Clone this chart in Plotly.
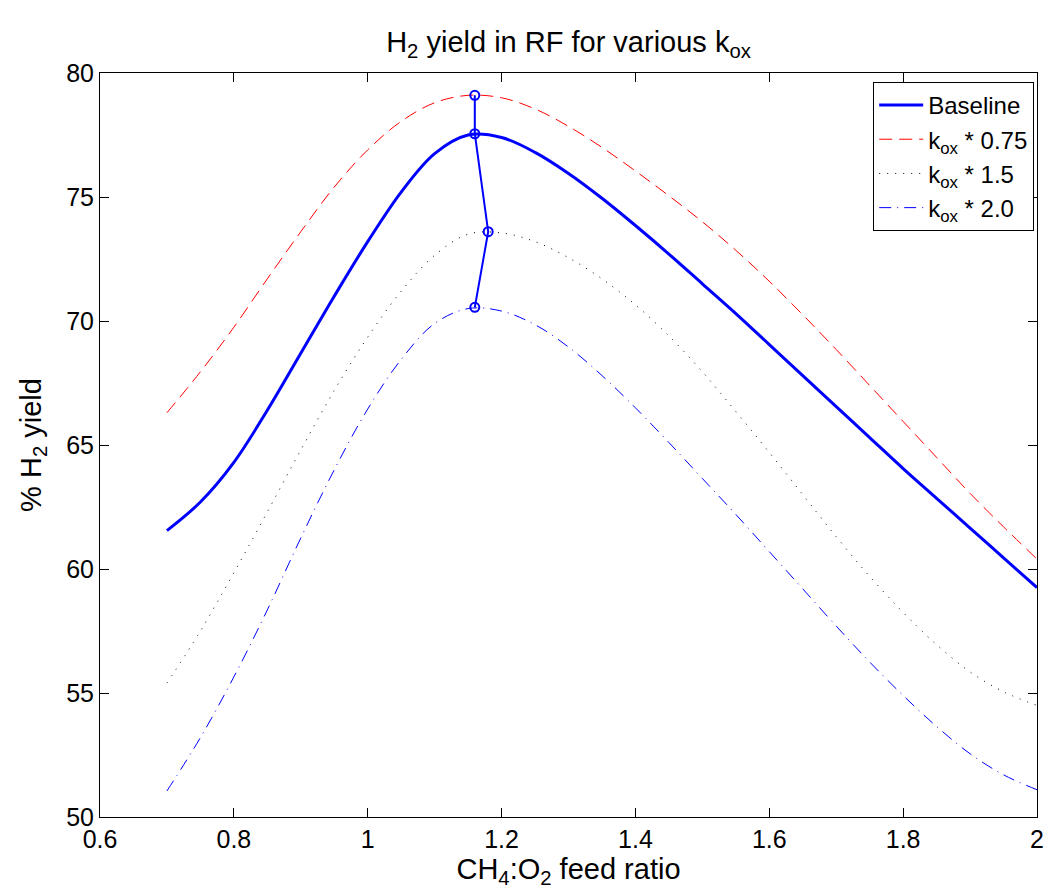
import plotly.graph_objects as go

x_ratio = [0.70, 0.75, 0.80, 0.85, 0.90, 0.95, 1.00, 1.05, 1.10, 1.15, 1.20, 1.25, 1.30, 1.35,
           1.40, 1.45, 1.50, 1.55, 1.60, 1.65, 1.70, 1.75, 1.80, 1.85, 1.90, 1.95, 2.00]

baseline = [61.55, 62.7, 64.3, 66.4, 68.7, 71.0, 73.2, 75.2, 76.75, 77.5, 77.4, 76.8, 75.95, 74.95,
            73.85, 72.7, 71.5, 70.3, 69.05, 67.8, 66.55, 65.3, 64.05, 62.85, 61.65, 60.45, 59.25]

kox_075 = [66.3, 67.95, 69.75, 71.7, 73.6, 75.4, 76.9, 78.05, 78.8, 79.1, 79.0, 78.55, 77.85, 77.0,
           76.05, 75.05, 74.0, 72.85, 71.6, 70.25, 68.85, 67.4, 65.95, 64.5, 63.05, 61.7, 60.4]

kox_15 = [55.4, 57.5, 59.85, 62.3, 64.8, 67.2, 69.35, 71.2, 72.65, 73.5, 73.55, 73.2, 72.55, 71.7,
          70.65, 69.4, 67.95, 66.35, 64.7, 63.0, 61.3, 59.7, 58.25, 56.95, 55.85, 55.05, 54.5]

kox_20 = [51.05, 53.2, 55.65, 58.35, 61.25, 64.0, 66.45, 68.45, 69.9, 70.5, 70.4, 69.85, 68.95, 67.8,
          66.5, 65.1, 63.65, 62.2, 60.7, 59.2, 57.7, 56.25, 54.9, 53.65, 52.55, 51.7, 51.1]

peak_x = [1.16, 1.16, 1.18, 1.16]
peak_y = [79.1, 77.55, 73.6, 70.55]

font = "Liberation Sans, Arial, Helvetica, sans-serif"

fig = go.Figure()
fig.add_trace(go.Scatter(x=x_ratio, y=baseline, mode="lines", name="Baseline",
                         line=dict(color="#0000ff", width=3, shape="spline", smoothing=1)))
fig.add_trace(go.Scatter(x=x_ratio, y=kox_075, mode="lines", name="k<sub>ox</sub> * 0.75",
                         line=dict(color="#ff0000", width=1, dash="13px,7px", shape="spline", smoothing=1)))
fig.add_trace(go.Scatter(x=x_ratio, y=kox_15, mode="lines", name="k<sub>ox</sub> * 1.5",
                         line=dict(color="#000000", width=1, dash="1px,7px", shape="spline", smoothing=1)))
fig.add_trace(go.Scatter(x=x_ratio, y=kox_20, mode="lines", name="k<sub>ox</sub> * 2.0",
                         line=dict(color="#0000ff", width=1, dash="12px,6px,1px,6px", shape="spline", smoothing=1)))
fig.add_trace(go.Scatter(x=peak_x, y=peak_y, mode="lines+markers", showlegend=False,
                         line=dict(color="#0000ff", width=2),
                         marker=dict(symbol="circle-open", size=9, color="#0000ff",
                                     line=dict(width=2, color="#0000ff"))))

axis_common = dict(showline=True, linecolor="black", linewidth=1, mirror="ticks",
                   ticks="inside", ticklen=9, tickcolor="black", tickwidth=1,
                   showgrid=False, zeroline=False,
                   tickfont=dict(family=font, size=25, color="black"))

fig.update_layout(
    width=1056, height=896,
    margin=dict(l=100, r=12, t=73, b=79),
    paper_bgcolor="white", plot_bgcolor="white",
    font=dict(family=font, size=25, color="black"),
    title=dict(text="H<sub>2</sub> yield in RF for various k<sub>ox</sub>",
               x=0.5, xref="paper", xanchor="center", y=0.953, yanchor="middle",
               font=dict(family=font, size=29, color="black")),
    xaxis=dict(range=[0.6, 2.0], tick0=0.6, dtick=0.2,
               title=dict(text="CH<sub>4</sub>:O<sub>2</sub> feed ratio", standoff=2,
                          font=dict(family=font, size=29)),
               **axis_common),
    yaxis=dict(range=[50, 80], tick0=50, dtick=5,
               title=dict(text="% H<sub>2</sub> yield", standoff=16,
                          font=dict(family=font, size=29)),
               **axis_common),
    legend=dict(x=0.997, y=0.988, xanchor="right", yanchor="top",
                bgcolor="white", bordercolor="black", borderwidth=1,
                font=dict(family=font, size=24, color="black"),
                tracegroupgap=0, itemwidth=44),
    showlegend=True,
)

fig.write_html("out.html")
